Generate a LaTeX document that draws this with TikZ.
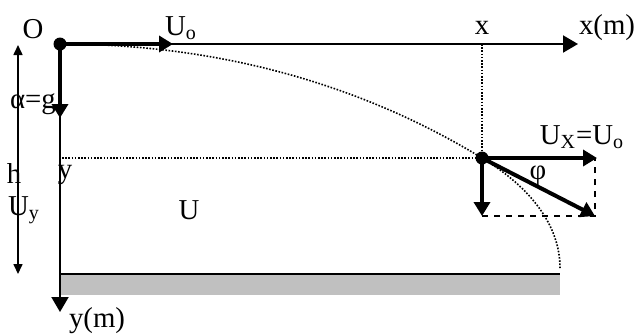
\documentclass[tikz,border=0pt]{standalone}
\usepackage{fontspec}
\setmainfont{Liberation Serif}
\usetikzlibrary{arrows.meta, positioning, calc}
\definecolor{ground}{HTML}{C0C0C0}

\begin{document}
\begin{tikzpicture}[
  x=0.5pt, y=-0.5pt,
  lbl/.style={font=\fontsize{14.4}{17}\selectfont, inner sep=0pt},
  dotnode/.style={circle, fill=black, inner sep=0pt, minimum size=6.5pt},
  axis/.style={-{Triangle[length=7.5pt, width=8.5pt]}, line width=1pt},
  vec/.style={-{Triangle[length=7pt, width=8pt]}, line width=2pt},
  guide/.style={line width=0.8pt, dash pattern=on 0.8pt off 0.8pt},
  dim/.style={{Triangle[length=5pt, width=4.5pt]}-{Triangle[length=5pt, width=4.5pt]}, line width=0.8pt}
]
  \useasboundingbox (0,0) rectangle (640,333);

  % ground
  \fill[ground] (60,274) rectangle (560,295);
  \draw[line width=1pt] (60,274) -- (560,274);

  % axes
  \node[dotnode] (O) at (60,44) {};
  \coordinate (xend) at (578,44);
  \coordinate (yend) at (60,312);
  \draw[axis] (O.center) -- (xend);
  \draw[axis] (O.center) -- (yend);

  % initial vectors
  \coordinate (uo) at (173,44);
  \coordinate (ag) at (60,118);
  \draw[vec] (O.center) -- (uo);
  \draw[vec] (O.center) -- (ag);

  % particle
  \node[dotnode] (P) at (482,158) {};
  \coordinate (xmark) at (482,44);
  \coordinate (ymark) at (62,158);
  \draw[guide] (xmark) -- (P.center);
  \draw[guide] (ymark) -- (P.center);

  % trajectory
  \draw[guide] (O.center) .. controls (260,44) and (400,108) .. (P.center)
    .. controls (530,187) and (560,225) .. (560,268);

  % velocity components
  \coordinate (ux) at (597,158);
  \coordinate (uy) at (482,216);
  \coordinate (u) at (595,216);
  \draw[dashed, line width=0.8pt] (482,216) -- (595,216) -- (595,158);
  \draw[vec] (P.center) -- (ux);
  \draw[vec] (P.center) -- (uy);
  \draw[vec] (P.center) -- (u);

  % height
  \coordinate (htop) at (18,45);
  \coordinate (hbot) at (18,274);
  \draw[dim] (htop) -- (hbot);

  % labels
  \node[lbl] (lO) at (33,29) {O};
  \node[lbl] (lUo) at (181,28) {U\textsubscript{o}};
  \node[lbl] (lx) at (482,28) {x};
  \node[lbl] (lxm) at (607,28) {x(m)};
  \node[lbl] (lag) at (33,104) {α=g};
  \node[lbl] (lh) at (14,173) {h};
  \node[lbl] (ly) at (65,175) {y};
  \node[lbl] (lUy) at (24,210) {U\textsubscript{y}};
  \node[lbl] (lU) at (189,210) {U};
  \node[lbl] (lym) at (97,321) {y(m)};
  \node[lbl] (lphi) at (538,176) {φ};
  \node[lbl] (lUx) at (582,137) {U\textsubscript{X}=U\textsubscript{o}};
\end{tikzpicture}
\end{document}
